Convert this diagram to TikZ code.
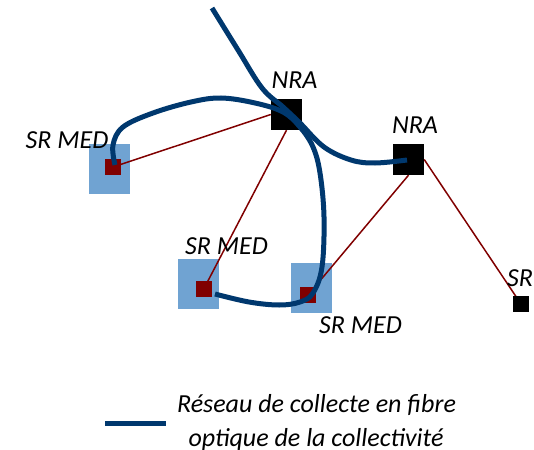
\documentclass[tikz,border=0pt]{standalone}
\usepackage{fontspec}
\setmainfont{Carlito}
\definecolor{navy}{RGB}{0,56,110}
\definecolor{medblue}{RGB}{112,163,210}
\definecolor{darkred}{RGB}{128,0,0}
\pgfdeclarelayer{areas}
\pgfdeclarelayer{links}
\pgfsetlayers{areas,links,main}
\tikzset{
  lbl/.style={inner sep=0pt, font=\itshape\fontsize{26}{31}\selectfont},
  medbox/.style={fill=medblue, draw=none, minimum width=41pt, minimum height=50pt, inner sep=0pt},
  redsq/.style={fill=darkred, draw=none, minimum width=16pt, minimum height=16pt, inner sep=0pt},
  blksq/.style={fill=black, draw=none, minimum size=31pt, inner sep=0pt},
  smallblk/.style={fill=black, draw=none, minimum size=16pt, inner sep=0pt},
  link/.style={draw=darkred, line width=1.5pt},
  fibre/.style={draw=navy, line width=5pt, line cap=butt},
}
\begin{document}
\begin{tikzpicture}[x=1pt,y=-1pt]
\useasboundingbox (0,0) rectangle (534,449);
% blue areas
\begin{pgfonlayer}{areas}
\node[medbox] (bA) at (109.5,169) {};
\node[medbox] (bB) at (198.5,284) {};
\node[medbox] (bC) at (311.5,288) {};
\end{pgfonlayer}
% nodes
\node[blksq] (nra1) at (286.5,114.5) {};
\node[blksq] (nra2) at (408.5,159.5) {};
\node[smallblk] (sr) at (521,304) {};
\node[redsq] (mA) at (113,167) {};
\node[redsq] (mB) at (204,288.5) {};
\node[redsq] (mC) at (308,295) {};
% red links (behind squares)
\begin{pgfonlayer}{links}
\path[link] (nra1.west) -- (mA.center);
\path[link] (nra1.south) -- (mB.center);
\path[link] (nra2.south) -- (mC.center);
\path[link] (nra2.east) -- (sr.center);
\end{pgfonlayer}
% fibre network
\draw[fibre] plot[smooth, tension=0.6] coordinates {(212,8) (238,50) (262,88) (283,107) (300,123) (324,147) (351,160) (375,163) (407,160)};
\draw[fibre] plot[smooth, tension=0.6] coordinates {(115,165) (113,145) (123,127) (153,113) (191,102) (221,98) (255,103) (283,112) (300,127) (313,147) (320,173) (324,217) (322,267) (313,293) (300,302) (279,305) (249,302) (215,294)};
% labels
\node[lbl] (lnra1) at (294.5,80.5) {NRA};
\node[lbl] (lnra2) at (415,125.5) {NRA};
\node[lbl] (lmA) at (67,140.5) {SR MED};
\node[lbl] (lmB) at (226.5,245.8) {SR MED};
\node[lbl] (lmC) at (360.5,325.5) {SR MED};
\node[lbl, anchor=west] (lsr) at (507,278.5) {SR};
% legend
\coordinate (legA) at (105,423);
\coordinate (legB) at (166,423);
\draw[fibre] (legA) -- (legB);
\node[lbl, anchor=base] (leg1) at (316.5,412.5) {Réseau de collecte en fibre};
\node[lbl, anchor=base] (leg2) at (316,446) {optique de la collectivité};
\end{tikzpicture}
\end{document}
